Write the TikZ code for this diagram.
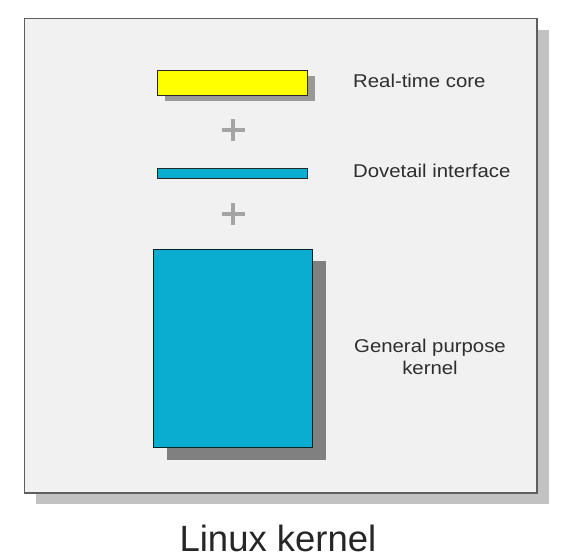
\documentclass[tikz,border=0pt]{standalone}
\usepackage{fontspec}
\setmainfont{Liberation Sans}
\newfontfamily\labelfont[FakeStretch=1.1]{Liberation Sans}
\usetikzlibrary{shadows}
\definecolor{panelfill}{HTML}{F1F1F1}
\definecolor{panelline}{HTML}{5E5E5E}
\definecolor{panelshadow}{HTML}{C2C2C2}
\definecolor{boxblue}{HTML}{0AADD0}
\definecolor{rtyellow}{HTML}{FFFF00}
\definecolor{plusgray}{HTML}{A4A4A4}
\definecolor{labelgray}{HTML}{2E2E2E}
\tikzset{
  panel/.style={draw=panelline, line width=1.5pt, fill=panelfill, inner sep=0pt,
    drop shadow={shadow xshift=12pt, shadow yshift=-11pt, fill=panelshadow, opacity=1}},
  layer/.style={draw=black!85, line width=1pt, inner sep=0pt},
  plussign/.style={draw=plusgray, line width=4pt},
  lbl/.style={font=\labelfont\fontsize{18.5}{23}\selectfont, text=labelgray, inner sep=0pt},
}
\begin{document}
\begin{tikzpicture}[x=1pt,y=-1pt]
\useasboundingbox (0,0) rectangle (566,559);
% panel
\node[panel, minimum width=512.5pt, minimum height=474pt, anchor=north west] (panel) at (23.5,18) {};
% real-time core
\node[layer, fill=rtyellow, minimum width=150pt, minimum height=25pt, anchor=north west,
  drop shadow={shadow xshift=7pt, shadow yshift=-6pt, fill=black!40, opacity=1}] (rt) at (157,70) {};
% plus 1
\coordinate (p1) at (233,130);
\draw[plussign] ([xshift=-11.5pt]p1) -- ([xshift=11.5pt]p1);
\draw[plussign] ([yshift=-11pt]p1) -- ([yshift=11pt]p1);
% dovetail
\node[layer, fill=boxblue, minimum width=150pt, minimum height=10pt, anchor=north west] (dt) at (157,168) {};
% plus 2
\coordinate (p2) at (233,214);
\draw[plussign] ([xshift=-11.5pt]p2) -- ([xshift=11.5pt]p2);
\draw[plussign] ([yshift=-11pt]p2) -- ([yshift=11pt]p2);
% general purpose kernel
\node[layer, fill=boxblue, draw=black!80!boxblue, minimum width=159pt, minimum height=198pt, anchor=north west,
  drop shadow={shadow xshift=13pt, shadow yshift=-12pt, fill=black!50, opacity=1}] (gp) at (153,249) {};
% labels
\node[lbl, anchor=base west] (lrt) at (353,88) {Real-time core};
\node[lbl, anchor=base west] (ldt) at (353,178) {Dovetail interface};
\node[lbl, align=center, anchor=base] (lgp) at (430,375) {General purpose\\kernel};
\node[font=\fontsize{36.5}{40}\selectfont, text=black!85, anchor=base, inner sep=0pt] (title) at (278,551) {Linux kernel};
\end{tikzpicture}
\end{document}
